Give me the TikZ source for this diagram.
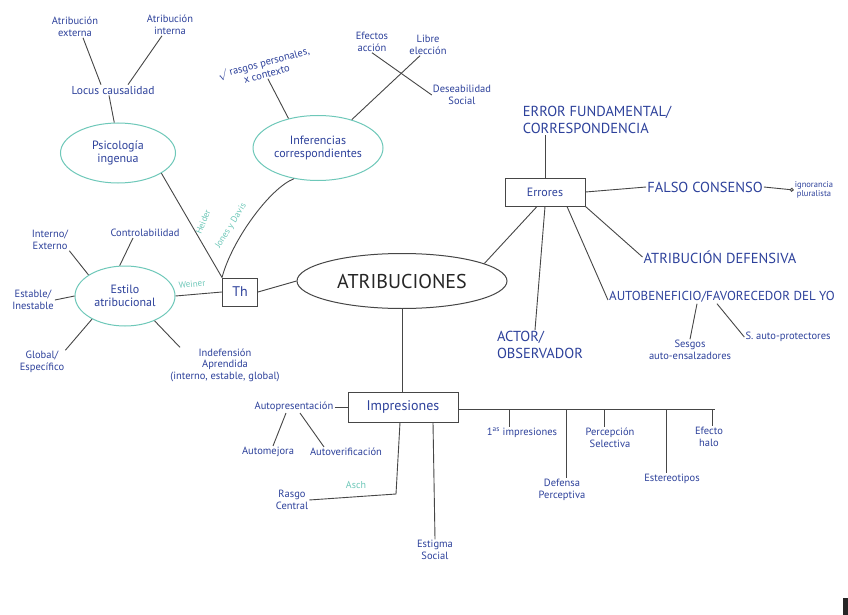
\documentclass[tikz,border=0pt]{standalone}
\usepackage{fontspec}
\setmainfont{PT Sans}
\usetikzlibrary{shapes.geometric,arrows.meta}
\definecolor{inkblue}{RGB}{45,65,155}
\definecolor{inkteal}{RGB}{110,200,185}
\definecolor{pencil}{RGB}{70,70,70}
\tikzset{
  lbl/.style={text=inkblue,font=\fontsize{10.5}{11.5}\selectfont,align=center,inner sep=1pt},
  caps/.style={text=inkblue,font=\fontsize{14.5}{17}\selectfont,align=left,inner sep=1pt},
  tealell/.style={ellipse,draw=inkteal,line width=1pt,text=inkblue,align=center,font=\fontsize{12}{13}\selectfont,inner sep=0pt},
  boxnode/.style={draw=pencil,line width=1pt,text=inkblue,align=center,inner sep=2pt},
  conn/.style={draw=pencil,line width=0.9pt},
  tealtxt/.style={text=inkteal,font=\fontsize{9}{10}\selectfont,inner sep=0pt}
}
\begin{document}
\begin{tikzpicture}[x=1pt,y=-1pt]
\useasboundingbox[fill=white] (0,0) rectangle (848,615);

% ---- top left: Psicologia ingenua
\node[lbl] (aext) at (75,27) {Atribución\\externa};
\node[lbl] (aint) at (170,25) {Atribución\\interna};
\node[lbl,font=\fontsize{11.5}{12}\selectfont] (locus) at (113,90) {Locus causalidad};
\node[tealell,minimum width=115,minimum height=60] (psico) at (118,153) {Psicología\\ingenua};
\draw[conn] ([xshift=8]aext.south) -- ([xshift=-12]locus.north);
\draw[conn] ([xshift=-8]aint.south) -- ([xshift=15]locus.north);
\draw[conn] ([xshift=-4]locus.south) -- (psico.97);

% ---- Inferencias correspondientes
\node[tealell,minimum width=130,minimum height=65] (infer) at (318,148) {Inferencias\\correspondientes};
\node[lbl,rotate=15] (rasgos) at (265,68) {$\surd$ rasgos personales,\\x contexto};
\node[lbl] (efac) at (372,42) {Efectos\\acción};
\node[lbl] (libre) at (428,45) {Libre\\elección};
\node[lbl] (deseab) at (462,95) {Deseabilidad\\Social};
\draw[conn] (rasgos.south) -- (infer.135);
\draw[conn] (infer.40) -- ([xshift=-8]libre.south);
\draw[conn] (efac.south) -- (deseab.west);

% ---- Errores
\node[boxnode,minimum width=80,minimum height=28,font=\fontsize{12}{13}\selectfont] (err) at (545,192) {Errores};
\node[caps] (efund) at (597,120) {ERROR FUNDAMENTAL/\\CORRESPONDENCIA};
\node[caps] (falso) at (705,187) {FALSO CONSENSO};
\node[lbl,font=\fontsize{8.5}{9.5}\selectfont] (ignor) at (814,190) {ignorancia\\pluralista};
\node[caps] (adef) at (720,257) {ATRIBUCIÓN DEFENSIVA};
\node[caps,font=\fontsize{13}{15}\selectfont] (autob) at (722,297) {AUTOBENEFICIO/FAVORECEDOR DEL YO};
\node[caps] (actor) at (540,345) {ACTOR/\\OBSERVADOR};
\node[lbl] (sesgos) at (690,350) {Sesgos\\auto-ensalzadores};
\node[lbl] (sprot) at (788,337) {S. auto-protectores};
\draw[conn] (err.north) -- (err.north |- efund.south);
\draw[conn] (err.east) -- (falso.west);
\draw[conn,-{Circle[open,length=4pt]}] (falso.east) -- (ignor.west);
\draw[conn] (err.south east) -- (adef.west);
\draw[conn] ([xshift=22]err.south) -- ([yshift=-3]autob.west);
\draw[conn] (err.south) -- ([xshift=-5]actor.north);
\draw[conn] ([xshift=-25]autob.south) -- (sesgos.north);
\draw[conn] ([xshift=-5]autob.south) -- (sprot.west);

% ---- ATRIBUCIONES
\node[ellipse,draw=pencil,line width=1pt,minimum width=210,minimum height=55,inner sep=0pt,
      font=\fontsize{20}{22}\selectfont,text=black!85] (atr) at (402,281) {ATRIBUCIONES};
\draw[conn] ([xshift=-8]err.south) -- (atr.12);

% ---- Th
\node[boxnode,minimum width=35,minimum height=28,font=\fontsize{14}{15}\selectfont] (th) at (240,292) {Th};
\draw[conn] (th.east) -- (atr.west);

% ---- Estilo atribucional
\node[tealell,minimum width=100,minimum height=60] (estilo) at (125,296) {Estilo\\atribucional};
\node[lbl] (control) at (145,233) {Controlabilidad};
\node[lbl] (intext) at (50,240) {Interno/\\Externo};
\node[lbl] (estab) at (33,300) {Estable/\\Inestable};
\node[lbl] (global) at (42,362) {Global/\\Específico};
\node[lbl] (indef) at (225,365) {Indefensión\\Aprendida\\(interno, estable, global)};
\draw[conn] ([xshift=-12]control.south) -- (estilo.100);
\draw[conn] (intext.south east) -- (estilo.150);
\draw[conn] (estab.east) -- (estilo.west);
\draw[conn] (global.north east) -- (estilo.215);
\draw[conn] (estilo.-40) -- ([xshift=-45]indef.north);

% ---- authors to Th
\draw[conn] (psico.-25) -- (th.north west);
\draw[conn] (infer.232) .. controls (270,188) and (232,240) .. (th.north west);
\draw[conn] (estilo.east) -- (th.west);
\node[tealtxt,rotate=68] (heider) at (203,222) {Heider};
\node[tealtxt,rotate=58] (jones) at (231,226) {Jones y Davis};
\node[tealtxt,rotate=6] (weiner) at (192,284) {Weiner};

% ---- Impresiones
\node[boxnode,minimum width=110,minimum height=30,font=\fontsize{14}{15}\selectfont] (impr) at (403,407) {Impresiones};
\draw[conn] (atr.south) -- (atr.south |- impr.north);
\node[lbl] (autop) at (294,407) {Autopresentación};
\node[lbl] (automej) at (268,452) {Automejora};
\node[lbl] (autover) at (346,452) {Autoverificación};
\node[lbl] (rasgo) at (292,500) {Rasgo\\Central};
\node[lbl] (estig) at (435,550) {Estigma\\Social};
\node[tealtxt,font=\fontsize{10}{11}\selectfont] (asch) at (356,485) {Asch};
\draw[conn] (autop.east) -- (impr.west);
\draw[conn] ([xshift=-8]autop.south) -- ([xshift=5]automej.north);
\draw[conn] ([xshift=6]autop.south) -- ([xshift=-22]autover.north);
\coordinate (rc) at (396,494);
\draw[conn] (rasgo.east) -- (rc) -- ([xshift=-3]impr.south);
\draw[conn] ([xshift=30]impr.south) -- (estig.north);

\coordinate (hr) at (715,409);
\draw[conn] (impr.east |- hr) -- (hr);
\node[lbl] (prim) at (522,433) {1\textsuperscript{as} impresiones};
\node[lbl] (defp) at (562,490) {Defensa\\Perceptiva};
\node[lbl] (persel) at (610,438) {Percepción\\Selectiva};
\node[lbl] (ester) at (672,479) {Estereotipos};
\node[lbl] (halo) at (709,437) {Efecto\\halo};
\coordinate (t1) at (509,409);
\coordinate (t2) at (566,409);
\coordinate (t3) at (604,409);
\coordinate (t4) at (666,409);
\coordinate (t5) at (712,409);
\draw[conn] (t1) -- (t1 |- prim.north);
\draw[conn] (t2) -- (t2 |- defp.north);
\draw[conn] (t3) -- (t3 |- persel.north);
\draw[conn] (t4) -- (t4 |- ester.north);
\draw[conn] (t5) -- (t5 |- halo.north);

% scan mark
\fill[black!85] (843,598) rectangle (848,615);
\end{tikzpicture}
\end{document}
